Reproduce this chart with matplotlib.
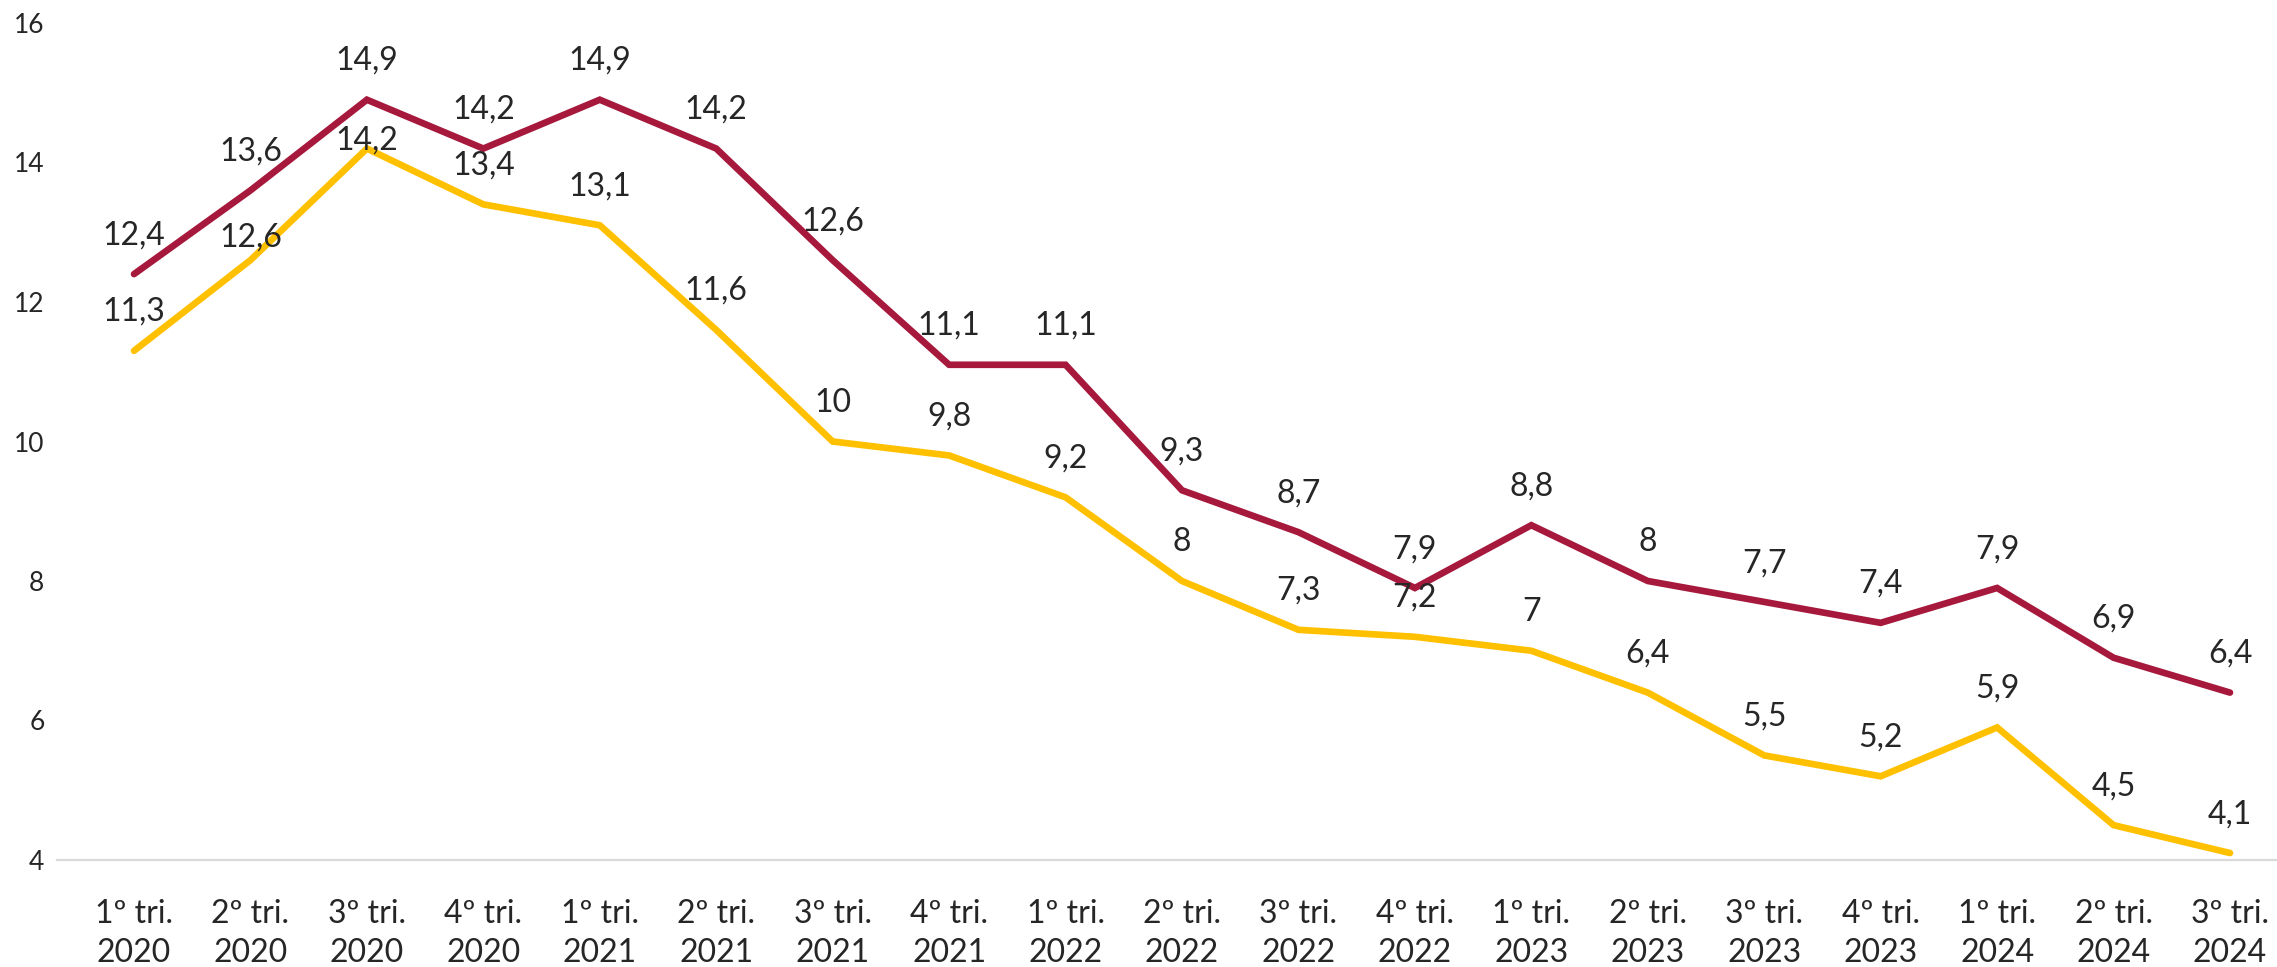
import matplotlib
matplotlib.use("Agg")
import matplotlib.pyplot as plt

plt.rcParams['font.family'] = ['Lato', 'DejaVu Sans']

categories = ["1º tri.\n2020", "2º tri.\n2020", "3º tri.\n2020", "4º tri.\n2020",
              "1º tri.\n2021", "2º tri.\n2021", "3º tri.\n2021", "4º tri.\n2021",
              "1º tri.\n2022", "2º tri.\n2022", "3º tri.\n2022", "4º tri.\n2022",
              "1º tri.\n2023", "2º tri.\n2023", "3º tri.\n2023", "4º tri.\n2023",
              "1º tri.\n2024", "2º tri.\n2024", "3º tri.\n2024"]
series_red = [12.4, 13.6, 14.9, 14.2, 14.9, 14.2, 12.6, 11.1, 11.1, 9.3,
              8.7, 7.9, 8.8, 8.0, 7.7, 7.4, 7.9, 6.9, 6.4]
series_yellow = [11.3, 12.6, 14.2, 13.4, 13.1, 11.6, 10.0, 9.8, 9.2, 8.0,
                 7.3, 7.2, 7.0, 6.4, 5.5, 5.2, 5.9, 4.5, 4.1]
yticks = [4, 6, 8, 10, 12, 14, 16]

# label offsets (points above point)
red_off = [28] * len(series_red)
yellow_off = [28] * len(series_yellow)
yellow_off[1] = 16
yellow_off[2] = 6

RED = "#A6193C"
YEL = "#FFC000"
TXT = "#262626"

W, H = 2277, 967
fig = plt.figure(figsize=(W / 100, H / 100), dpi=100)
left_px, right_px = 57, 2277
bot_px, top_px = 860, 23
ax = fig.add_axes([left_px / W, 1 - bot_px / H, (right_px - left_px) / W, (bot_px - top_px) / H])

x = list(range(len(categories)))
ax.plot(x, series_red, color=RED, lw=4.8, solid_joinstyle='miter', solid_capstyle='round', zorder=3)
ax.plot(x, series_yellow, color=YEL, lw=4.8, solid_joinstyle='miter', solid_capstyle='round', zorder=3)

def fmt(v):
    s = f"{v:.1f}".replace(".", ",")
    if s.endswith(",0"):
        s = s[:-2]
    return s

for xi, v, o in zip(x, series_red, red_off):
    ax.annotate(fmt(v), (xi, v), xytext=(0, o), textcoords='offset points',
                ha='center', va='center', fontsize=23, color=TXT, zorder=4)
for xi, v, o in zip(x, series_yellow, yellow_off):
    ax.annotate(fmt(v), (xi, v), xytext=(0, o), textcoords='offset points',
                ha='center', va='center', fontsize=23, color=TXT, zorder=4)

step = (2230 - 134) / 18
ax.set_xlim((left_px - 134) / step, 18 + (right_px - 2230) / step)
ax.set_ylim(4, 16)
ax.set_yticks(yticks)
ax.set_yticklabels([str(t) for t in yticks], fontsize=19, color=TXT)
ax.set_xticks(x)
ax.set_xticklabels(categories, fontsize=23, color=TXT, linespacing=1.4)
ax.tick_params(axis='both', length=0)
ax.tick_params(axis='x', pad=28)
ax.tick_params(axis='y', pad=9)
for s in ['top', 'right', 'left']:
    ax.spines[s].set_visible(False)
ax.spines['bottom'].set_color('#D9D9D9')
ax.spines['bottom'].set_linewidth(1.6)

fig.savefig("out.png", dpi=100)
